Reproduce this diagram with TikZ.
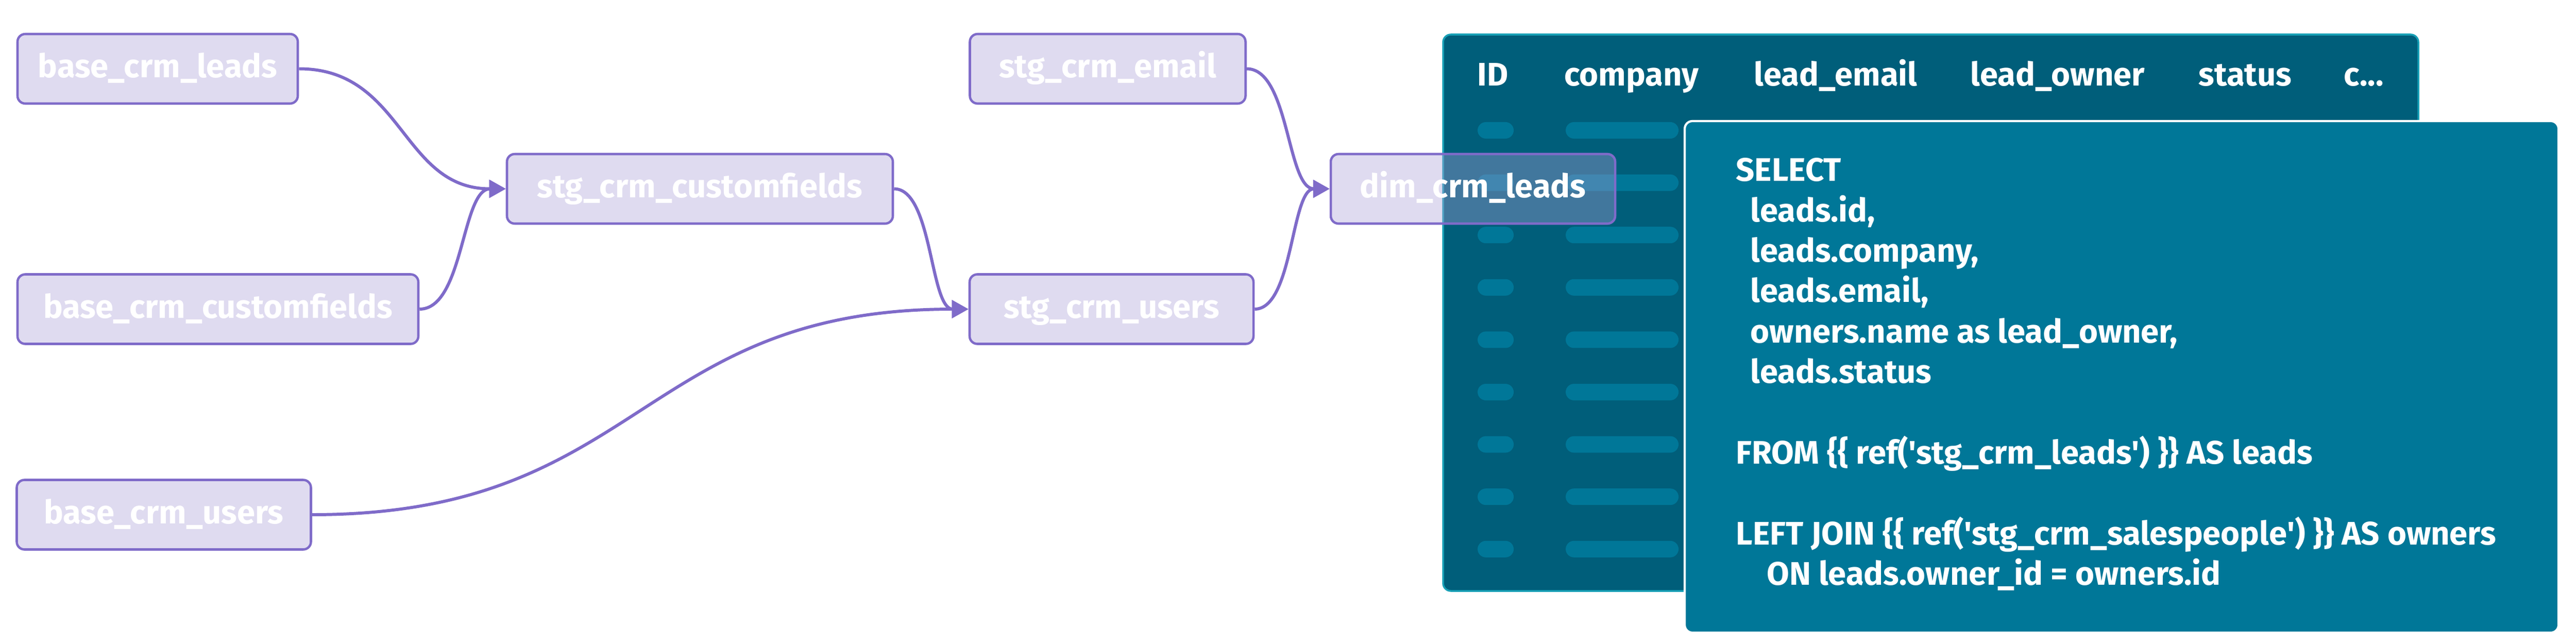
\documentclass[tikz,border=0pt]{standalone}
\usepackage{fontspec}
\setmainfont{Fira Sans}
\usetikzlibrary{arrows.meta}
\definecolor{lavender}{RGB}{171,160,216}
\definecolor{dbtpurple}{RGB}{127,107,201}
\definecolor{tealdark}{RGB}{0,94,122}
\definecolor{tealline}{RGB}{24,160,182}
\definecolor{tealmid}{RGB}{0,119,152}
\begin{document}
\begin{tikzpicture}[font=\bfseries\fontsize{18}{22.3}\selectfont,
    modelbox/.style={draw=dbtpurple,line width=1.3pt,fill=lavender,fill opacity=0.38,text opacity=1,text=white,
        rounded corners=0.15cm,minimum height=1.35cm,text height=0.44cm,text depth=0.1cm},
    flow/.style={dbtpurple,line width=1.7pt,-{Triangle[length=0.32cm,width=0.34cm]}},
    colhead/.style={anchor=base west,inner sep=0pt,text=white}]
    \useasboundingbox (0,0) rectangle (50,-12.5);

    % table of dim_crm_leads
    \node[draw=tealline,line width=1pt,fill=tealdark,rounded corners=0.15cm,minimum width=18.93cm,minimum height=10.8cm] (leadtable) at (37.475,-6.07) {};
    \node[colhead] (hid) at (28.67,-1.67) {ID};
    \node[colhead] (hcompany) at (30.36,-1.67) {company};
    \node[colhead] (hemail) at (34.04,-1.67) {lead\_email};
    \node[colhead] (howner) at (38.24,-1.67) {lead\_owner};
    \node[colhead] (hstatus) at (42.67,-1.67) {status};
    \node[colhead] (hmore) at (45.49,-1.67) {c...};
    \foreach \r in {0,...,8} {
        \fill[tealmid,rounded corners=0.16cm] (28.68,{-2.37-1.016*\r}) rectangle ++(0.7,-0.32);
        \fill[tealmid,rounded corners=0.16cm] (30.39,{-2.37-1.016*\r}) rectangle ++(2.19,-0.32);
    }

    % sql of the model
    \node[draw=white,line width=1.2pt,fill=tealmid,rounded corners=0.15cm,minimum width=16.96cm,minimum height=9.93cm] (sqlpanel) at (41.18,-7.315) {};
    \node[anchor=north west,inner sep=0pt,align=left,text=white] (sql) at (33.69,-3.06) {SELECT\\
        \hspace*{0.28cm}leads.id,\\
        \hspace*{0.28cm}leads.company,\\
        \hspace*{0.28cm}leads.email,\\
        \hspace*{0.28cm}owners.name as lead\_owner,\\
        \hspace*{0.28cm}leads.status\\[22.3pt]
        FROM \{\{ ref(\textquotesingle stg\_crm\_leads\textquotesingle) \}\} AS leads\\[22.3pt]
        LEFT JOIN \{\{ ref(\textquotesingle stg\_crm\_salespeople\textquotesingle) \}\} AS owners\\
        \hspace*{0.6cm}ON leads.owner\_id = owners.id};

    % lineage
    \node[modelbox,minimum width=5.44cm] (bleads) at (3.06,-1.335) {base\_crm\_leads};
    \node[modelbox,minimum width=7.78cm] (bfields) at (4.23,-6.0) {base\_crm\_customfields};
    \node[modelbox,minimum width=5.71cm] (busers) at (3.18,-9.99) {base\_crm\_users};
    \node[modelbox,minimum width=7.49cm] (sfields) at (13.585,-3.665) {stg\_crm\_customfields};
    \node[modelbox,minimum width=5.35cm] (semail) at (21.5,-1.335) {stg\_crm\_email};
    \node[modelbox,minimum width=5.51cm] (susers) at (21.575,-6.0) {stg\_crm\_users};
    \node[modelbox,minimum width=5.52cm] (dleads) at (28.59,-3.665) {dim\_crm\_leads};

    \draw[flow] (bleads.east) .. controls +(2.03,0) and +(-2.03,0) .. (sfields.west);
    \draw[flow] (bfields.east) .. controls +(0.86,0) and +(-0.86,0) .. (sfields.west);
    \draw[flow] (sfields.east) .. controls +(0.75,0) and +(-0.75,0) .. (susers.west);
    \draw[flow] (busers.east) .. controls +(6.4,0) and +(-6.4,0) .. (susers.west);
    \draw[flow] (semail.east) .. controls +(0.83,0) and +(-0.83,0) .. (dleads.west);
    \draw[flow] (susers.east) .. controls +(0.75,0) and +(-0.75,0) .. (dleads.west);
\end{tikzpicture}
\end{document}
